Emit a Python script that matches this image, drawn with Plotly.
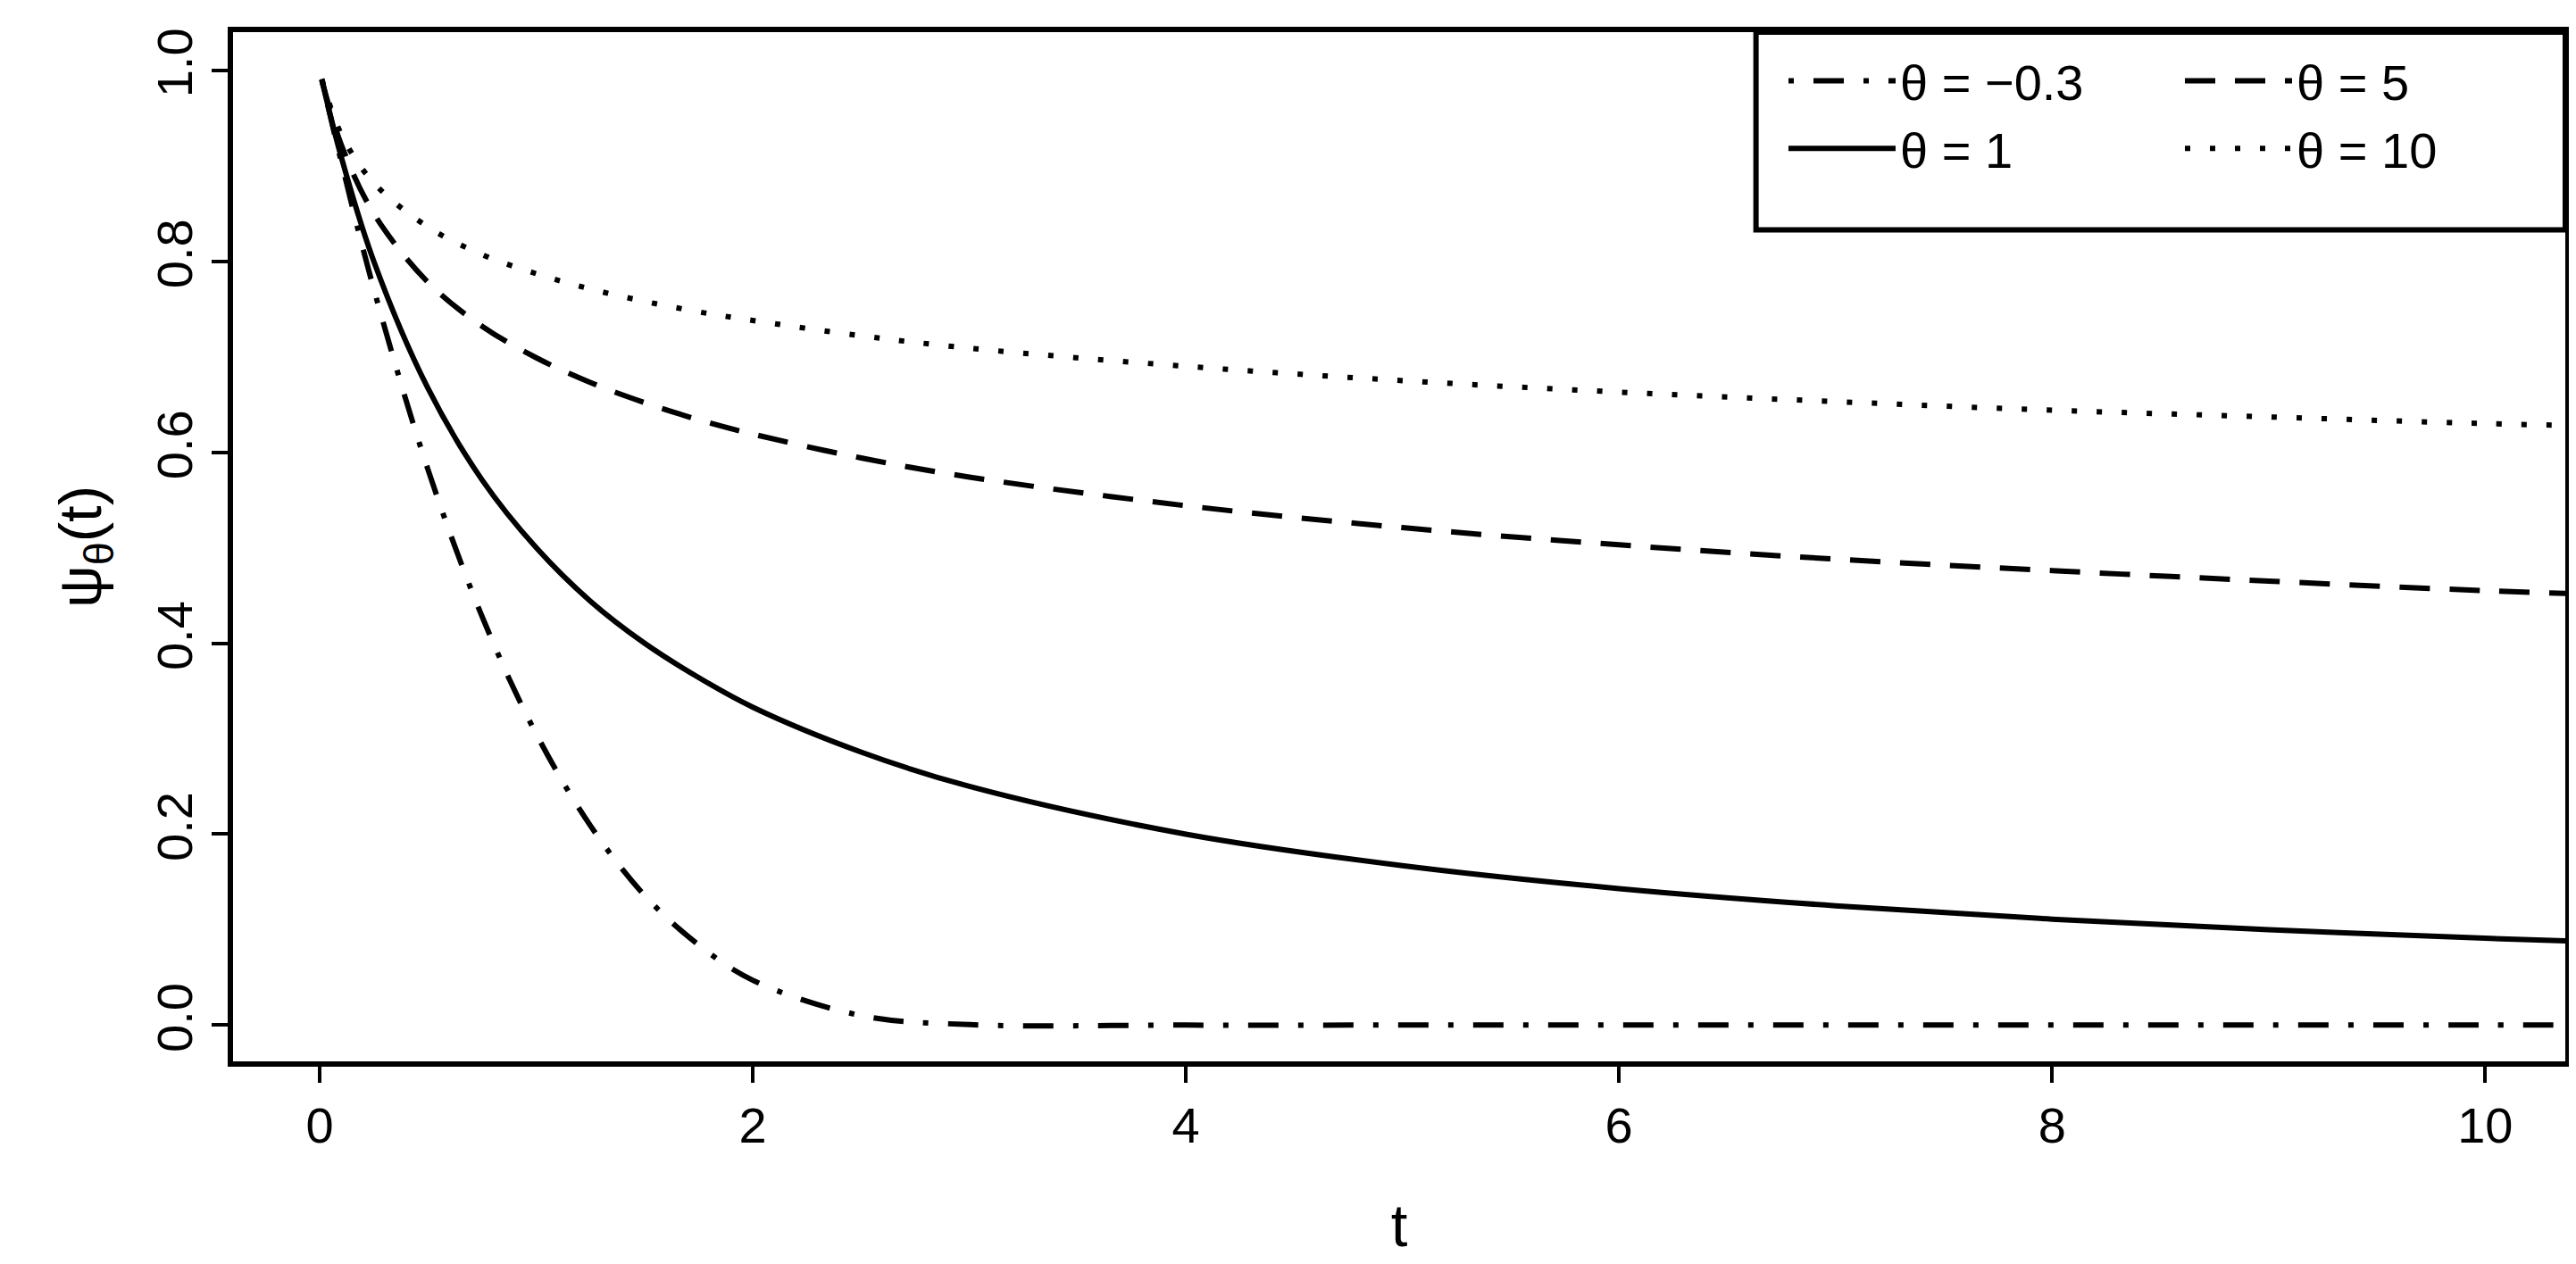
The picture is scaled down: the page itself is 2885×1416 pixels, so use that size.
import plotly.graph_objects as go

# values
t = [0.01, 0.1, 0.25, 0.5, 0.75, 1, 1.25, 1.5, 1.75, 2, 2.5, 3, 4, 5, 6, 7, 8, 9, 10, 10.4]
psi_m03 = [0.990, 0.904, 0.771, 0.582, 0.428, 0.305, 0.209, 0.136, 0.084, 0.047, 0.010, 0.0005,
           0, 0, 0, 0, 0, 0, 0, 0]
psi_1 = [0.990, 0.909, 0.800, 0.667, 0.571, 0.500, 0.444, 0.400, 0.364, 0.333, 0.286, 0.250,
         0.200, 0.167, 0.143, 0.125, 0.111, 0.100, 0.091, 0.088]
psi_5 = [0.990, 0.922, 0.850, 0.778, 0.732, 0.699, 0.673, 0.652, 0.634, 0.619, 0.594, 0.574,
         0.544, 0.521, 0.503, 0.488, 0.476, 0.465, 0.455, 0.452]
psi_10 = [0.991, 0.933, 0.882, 0.836, 0.807, 0.787, 0.771, 0.758, 0.747, 0.738, 0.722, 0.709,
          0.690, 0.675, 0.663, 0.653, 0.644, 0.637, 0.630, 0.628]

series = [("θ = −0.3", psi_m03, "6px,22px,34px,22px", "legend"),
          ("θ = 1", psi_1, "solid", "legend"),
          ("θ = 5", psi_5, "34px,22px", "legend2"),
          ("θ = 10", psi_10, "6px,22px", "legend2")]

fig = go.Figure()
for name, y, dash, leg in series:
    fig.add_trace(go.Scatter(x=t, y=y, mode="lines", name=name, legend=leg,
                             line=dict(color="black", width=6, dash=dash, shape="spline")))

font = dict(family="Liberation Sans, Arial", size=56, color="black")
legfont = dict(family="Liberation Sans, Arial", size=56, color="black")
fig.update_layout(
    width=2885, height=1416, template="plotly_white",
    plot_bgcolor="white", paper_bgcolor="white", font=font,
    margin=dict(l=253, r=20, t=28, b=235),
    legend=dict(x=0.665, xanchor="left", y=0.99, yanchor="top", itemwidth=120,
                bgcolor="rgba(0,0,0,0)", font=legfont, tracegroupgap=0),
    legend2=dict(x=0.835, xanchor="left", y=0.99, yanchor="top", itemwidth=120,
                 bgcolor="rgba(0,0,0,0)", font=legfont, tracegroupgap=0),
)
fig.add_shape(type="rect", xref="paper", yref="paper", x0=0.653, x1=1, y0=0.808, y1=1,
              line=dict(color="black", width=6))
fig.update_xaxes(range=[-0.4, 10.37], tickvals=[0, 2, 4, 6, 8, 10], showgrid=False,
                 zeroline=False, showline=True, mirror=True, linecolor="black", linewidth=6,
                 ticks="outside", ticklen=18, tickwidth=4, tickcolor="black",
                 title=dict(text="t", standoff=60))
fig.update_yaxes(range=[-0.038, 1.04], tickvals=[0, 0.2, 0.4, 0.6, 0.8, 1.0],
                 ticktext=["0.0", "0.2", "0.4", "0.6", "0.8", "1.0"], tickangle=-90,
                 showgrid=False, zeroline=False, showline=True, mirror=True,
                 linecolor="black", linewidth=6, ticks="outside", ticklen=18, tickwidth=4,
                 tickcolor="black", title=dict(text="ψ<sub>θ</sub>(t)", standoff=30))
fig.write_html("out.html")
